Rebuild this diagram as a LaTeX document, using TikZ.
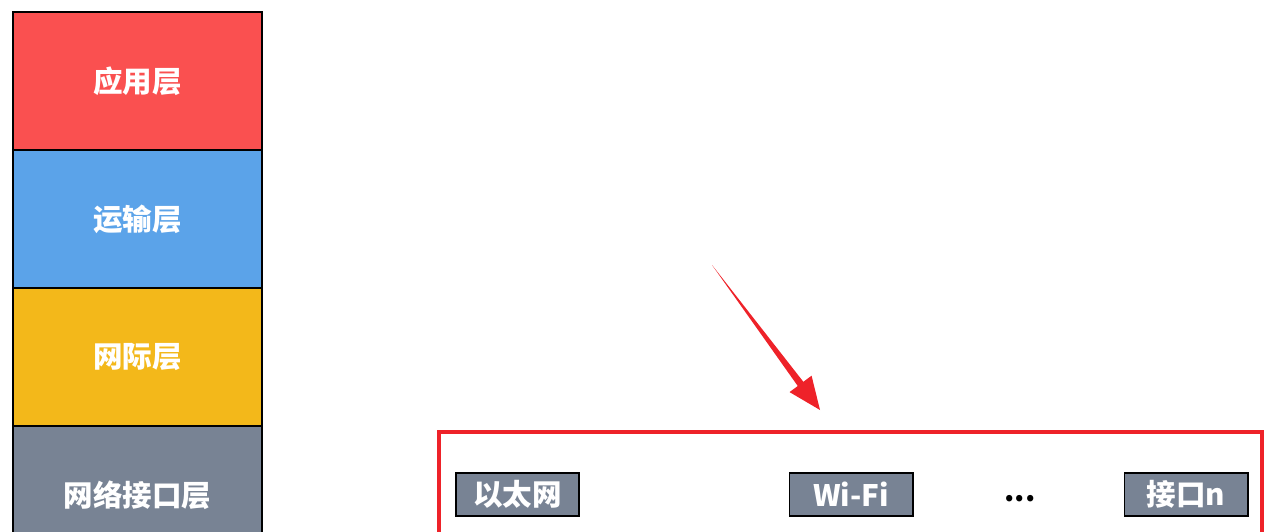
\documentclass[tikz,border=0pt]{standalone}
\usepackage{fontspec}
\setmainfont{Noto Sans CJK SC}
\usetikzlibrary{positioning,calc}

\definecolor{appred}{HTML}{FA5050}
\definecolor{transblue}{HTML}{5BA3E9}
\definecolor{netyellow}{HTML}{F3B81A}
\definecolor{linkgray}{HTML}{788394}
\definecolor{markred}{HTML}{EE2229}

\tikzset{
    layer/.style={draw=black, line width=1.4pt, outer sep=0pt,
        minimum width=6.225cm, minimum height=3.45cm,
        text=white, font=\fontsize{21}{24}\selectfont\bfseries},
    iface/.style={draw=black, line width=1.4pt, fill=linkgray,
        minimum width=3.075cm, minimum height=1.075cm, inner sep=0pt,
        text=white, font=\fontsize{21}{24}\selectfont\bfseries}
}

\begin{document}
\begin{tikzpicture}[x=0.025cm, y=-0.025cm]
\useasboundingbox (0,0) rectangle (1275,532);
\clip (0,0) rectangle (1275,532);

% protocol stack
\node[layer, fill=appred] (app) at (137.5,81) {应用层};
\node[layer, fill=transblue, below=0pt of app] (trans) {运输层};
\node[layer, fill=netyellow, below=0pt of trans] (inet) {网际层};
\node[layer, fill=linkgray, below=0pt of inet] (link) {网络接口层};

% network interfaces
\draw[markred, line width=2.2pt] (439,600) |- (1262,432) -- (1262,600);
\node[iface] (eth) at (517.5,494.5) {以太网};
\node[iface] (wifi) at (851,494.5) {Wi-Fi};
\node[font=\fontsize{21}{24}\selectfont\bfseries] (dots) at (1020,499) {...};
\node[iface] (ifn) at (1186,494.5) {接口n};

% pointer
\coordinate (tail) at (712,265);
\coordinate (tip) at (820,410);
\fill[markred] (tail) -- ($(tail)!0.82!(tip)+(2.8,-2.1)$) -- ($(tail)!0.82!(tip)+(11,-8.2)$)
    -- (tip) -- ($(tail)!0.82!(tip)+(-11,8.2)$) -- ($(tail)!0.82!(tip)+(-2.8,2.1)$) -- cycle;
\end{tikzpicture}
\end{document}
